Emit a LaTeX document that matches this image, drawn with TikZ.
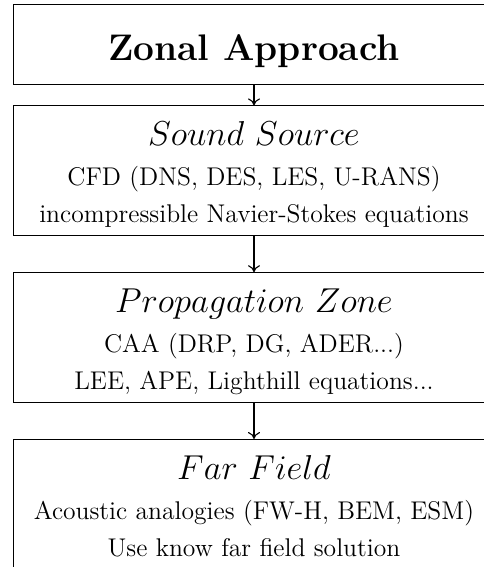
\documentclass[tikz,border=0pt]{standalone}
\usetikzlibrary{positioning,arrows.meta}

\begin{document}
\begin{tikzpicture}[x=0.5pt,y=-0.5pt,
    zone/.style={draw, minimum width=240.5pt, minimum height=65pt,
        inner sep=0pt, align=center, text height=58.5pt, text depth=6.5pt,
        font=\fontsize{12.8}{18.5}\selectfont},
    flow/.style={-{To[length=3.5pt,width=6pt]}, line width=0.55pt}]
    \useasboundingbox (0,0) rectangle (483,567);

    \node[zone, minimum height=40pt, text height=17pt, text depth=0pt] (zonal) at (254,44)
        {\fontsize{18.5}{18}\selectfont\bfseries Zonal Approach};
    \node[zone, below=10.5pt of zonal] (source)
        {{\fontsize{17.8}{18}\selectfont $Sound\ Source$}\\[1.5pt]
         CFD (DNS, DES, LES, U-RANS)\\
         incompressible Navier-Stokes equations};
    \node[zone, below=18pt of source] (prop)
        {{\fontsize{17.8}{18}\selectfont $Propagation\ Zone$}\\[1.5pt]
         CAA (DRP, DG, ADER...)\\
         LEE, APE, Lighthill equations...};
    \node[zone, below=18pt of prop] (far)
        {{\fontsize{17.8}{18}\selectfont $Far\ Field$}\\[1.5pt]
         Acoustic analogies (FW-H, BEM, ESM)\\
         Use know far field solution};

    \draw[flow] (zonal) -- (source);
    \draw[flow] (source) -- (prop);
    \draw[flow] (prop) -- (far);
\end{tikzpicture}
\end{document}
